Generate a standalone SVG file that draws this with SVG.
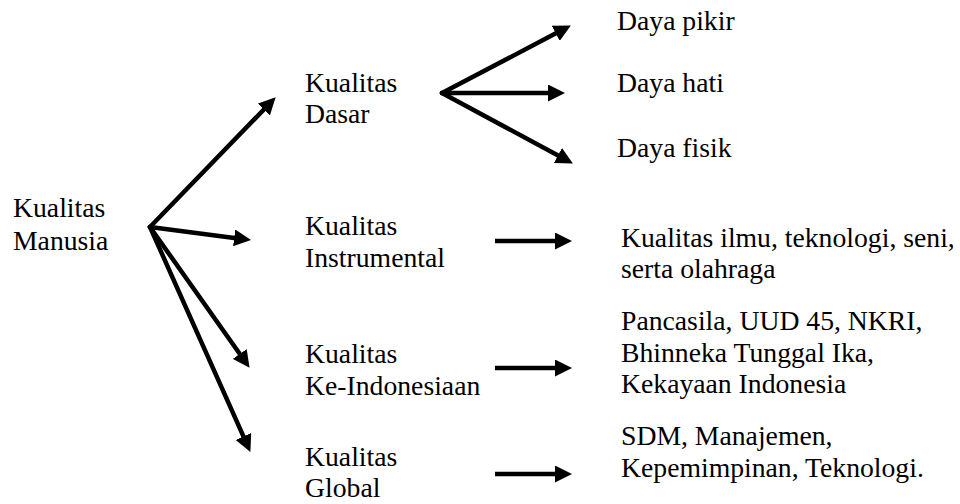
<svg xmlns="http://www.w3.org/2000/svg" width="960" height="504" viewBox="0 0 960 504">
<style>
.c line{stroke:#000;stroke-width:4.5;stroke-linecap:round;marker-end:url(#ah)}
.c line.h{stroke-linecap:butt}
</style>
<defs>
<marker id="ah" markerUnits="userSpaceOnUse" markerWidth="17" markerHeight="17" refX="6" refY="8.5" orient="auto" viewBox="0 0 17 17">
<path d="M0,0 L17,8.5 L0,17 z" fill="#000"/>
</marker>
</defs>
<rect width="960" height="504" fill="#fff"/>
<g id="connectors" class="c">
<line x1="150" y1="227" x2="268" y2="105.2"/>
<line x1="150" y1="227" x2="240.1" y2="238.7"/>
<line x1="150" y1="227" x2="243.2" y2="358.8"/>
<line x1="150" y1="227" x2="245.9" y2="441.9"/>
<line x1="442" y1="93" x2="561.1" y2="30.6"/>
<line x1="442" y1="93" x2="554" y2="93"/>
<line x1="442" y1="93" x2="563.2" y2="158.3"/>
<line class="h" x1="495" y1="241" x2="561" y2="241"/>
<line class="h" x1="495" y1="368" x2="561" y2="368"/>
<line class="h" x1="495" y1="474" x2="561" y2="474"/>
</g>
<g font-family="Liberation Serif" font-size="27.7" fill="#000">
<g id="kualitas-manusia"><text font-family="Liberation Serif" x="13" y="217">Kualitas</text><text font-family="Liberation Serif" x="13" y="250">Manusia</text></g>
<g id="kualitas-dasar"><text font-family="Liberation Serif" x="305" y="92">Kualitas</text><text font-family="Liberation Serif" x="305" y="123">Dasar</text></g>
<g id="kualitas-instrumental"><text font-family="Liberation Serif" x="305" y="235">Kualitas</text><text font-family="Liberation Serif" x="305" y="267">Instrumental</text></g>
<g id="kualitas-keindonesiaan"><text font-family="Liberation Serif" x="305" y="363">Kualitas</text><text font-family="Liberation Serif" x="305" y="395">Ke-Indonesiaan</text></g>
<g id="kualitas-global"><text font-family="Liberation Serif" x="305" y="466">Kualitas</text><text font-family="Liberation Serif" x="305" y="497">Global</text></g>
<g id="daya-pikir"><text font-family="Liberation Serif" x="617" y="30">Daya pikir</text></g>
<g id="daya-hati"><text font-family="Liberation Serif" x="617" y="92">Daya hati</text></g>
<g id="daya-fisik"><text font-family="Liberation Serif" x="617" y="157">Daya fisik</text></g>
<g id="ilmu"><text font-family="Liberation Serif" x="621" y="247">Kualitas ilmu, teknologi, seni,</text><text font-family="Liberation Serif" x="621" y="278">serta olahraga</text></g>
<g id="pancasila"><text font-family="Liberation Serif" x="621" y="330">Pancasila, UUD 45, NKRI,</text><text font-family="Liberation Serif" x="621" y="362">Bhinneka Tunggal Ika,</text><text font-family="Liberation Serif" x="621" y="393">Kekayaan Indonesia</text></g>
<g id="sdm"><text font-family="Liberation Serif" x="621" y="445">SDM, Manajemen,</text><text font-family="Liberation Serif" x="621" y="477">Kepemimpinan, Teknologi.</text></g>
</g>
</svg>
